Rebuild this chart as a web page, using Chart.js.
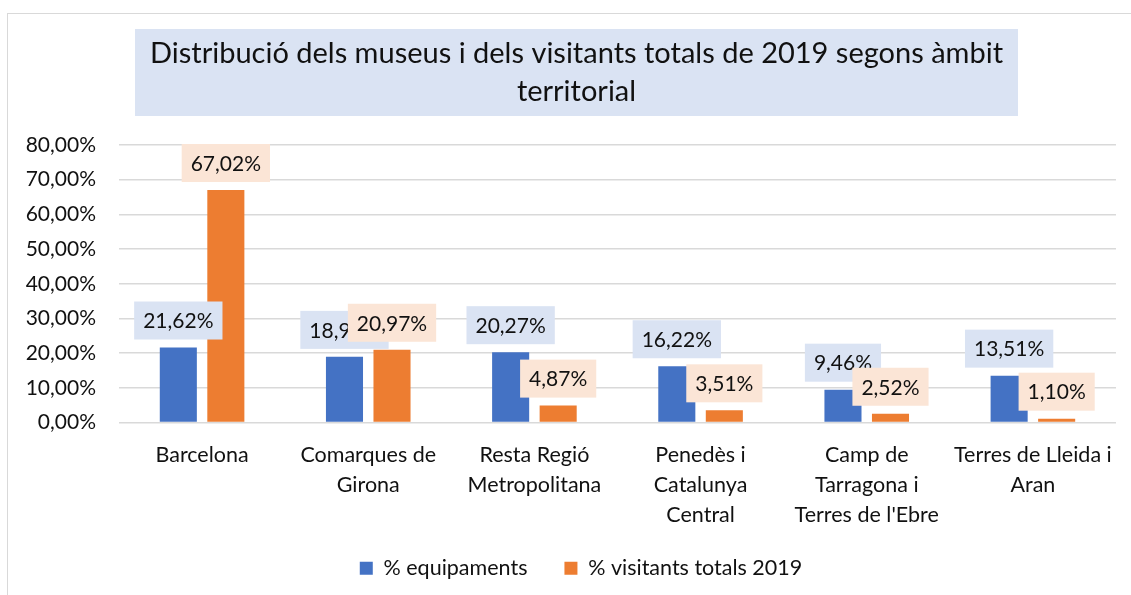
<!DOCTYPE html>
<html>
<head>
<meta charset="utf-8">
<script src="https://cdn.jsdelivr.net/npm/chart.js@4/dist/chart.umd.min.js"></script>
<style>
  html, body { margin: 0; padding: 0; background: #fff; }
  #wrap { position: relative; width: 1131px; height: 595px; overflow: hidden; }
  #frame { position: absolute; left: 7px; top: 13px; width: 1200px; height: 700px;
           border-left: 1.5px solid #d9d9d9; border-top: 1.5px solid #d9d9d9; }
  canvas { position: absolute; left: 0; top: 0; }
</style>
</head>
<body>
<div id="wrap">
  <div id="frame"></div>
  <canvas id="c" width="1131" height="595"></canvas>
</div>
<script>
const titleLines = ["Distribució dels museus i dels visitants totals de 2019 segons àmbit", "territorial"];
const categories = [
  ["Barcelona"],
  ["Comarques de", "Girona"],
  ["Resta Regió", "Metropolitana"],
  ["Penedès i", "Catalunya", "Central"],
  ["Camp de", "Tarragona i", "Terres de l'Ebre"],
  ["Terres de Lleida i", "Aran"]
];
const seriesNames = ["% equipaments", "% visitants totals 2019"];
const equipaments = [21.62, 18.92, 20.27, 16.22, 9.46, 13.51];
const visitants = [67.02, 20.97, 4.87, 3.51, 2.52, 1.10];
const yTicks = [0, 10, 20, 30, 40, 50, 60, 70, 80];

const FONT = "Lato, 'Open Sans', sans-serif";
const fmt = v => v.toFixed(2).replace('.', ',') + '%';

const titlePlugin = {
  id: 'boxTitle',
  beforeDraw(chart) {
    const ctx = chart.ctx;
    ctx.save();
    ctx.fillStyle = '#dae3f3';
    ctx.fillRect(135, 29, 883, 87);
    ctx.fillStyle = '#111';
    ctx.font = "29px " + FONT;
    ctx.textAlign = 'center';
    ctx.textBaseline = 'middle';
    ctx.fillText(titleLines[0], 576.5, 54);
    ctx.fillText(titleLines[1], 576.5, 92);
    ctx.restore();
  }
};

const labelPlugin = {
  id: 'boxLabels',
  afterDatasetsDraw(chart) {
    const ctx = chart.ctx;
    const bgs = ['#dae3f3', '#fbe5d6'];
    ctx.save();
    ctx.font = "21px " + FONT;
    ctx.textAlign = 'center';
    ctx.textBaseline = 'middle';
    chart.data.datasets.forEach((ds, di) => {
      const meta = chart.getDatasetMeta(di);
      meta.data.forEach((bar, i) => {
        const txt = fmt(ds.data[i]);
        const w = ctx.measureText(txt).width + 18;
        const h = 38;
        const bottom = bar.y - 8;
        ctx.fillStyle = bgs[di];
        ctx.fillRect(bar.x - w / 2, bottom - h, w, h);
        ctx.fillStyle = '#111';
        ctx.fillText(txt, bar.x, bottom - h / 2 + 1);
      });
    });
    ctx.restore();
  }
};

const noClip = () => undefined;

new Chart(document.getElementById('c'), {
  type: 'bar',
  data: {
    labels: categories,
    datasets: [
      { label: seriesNames[0], data: equipaments, backgroundColor: '#4472c4', borderWidth: 0,
        categoryPercentage: 0.572, barPercentage: 0.78 },
      { label: seriesNames[1], data: visitants, backgroundColor: '#ed7d31', borderWidth: 0,
        categoryPercentage: 0.572, barPercentage: 0.78 }
    ]
  },
  options: {
    responsive: false,
    animation: false,
    devicePixelRatio: 1,
    layout: { padding: { left: 46, right: 15, top: 145, bottom: 6 } },
    plugins: {
      title: { display: false },
      tooltip: { enabled: false },
      legend: {
        display: true,
        position: 'bottom',
        labels: {
          boxWidth: 13, boxHeight: 13, padding: 37,
          color: '#111',
          font: { family: FONT, size: 21.5 }
        }
      }
    },
    scales: {
      x: {
        grid: { display: false, drawTicks: false },
        border: { display: false },
        ticks: {
          color: '#111', padding: 18, maxRotation: 0, autoSkip: false,
          font: { family: FONT, size: 21.5, lineHeight: 1.38 }
        },
        afterFit(scale) { scale.height = 98; scale._computeLabelArea = noClip; }
      },
      y: {
        min: 0, max: 80,
        afterBuildTicks(scale) { scale.ticks = yTicks.map(v => ({ value: v })); },
        grid: { color: '#d9d9d9', lineWidth: 1.5, drawTicks: false },
        border: { display: false },
        ticks: {
          color: '#111', padding: 23,
          font: { family: FONT, size: 21 },
          callback: v => fmt(v)
        },
        afterFit(scale) { scale.width = 73; scale._computeLabelArea = noClip; }
      }
    }
  },
  plugins: [titlePlugin, labelPlugin]
});
</script>
</body>
</html>
